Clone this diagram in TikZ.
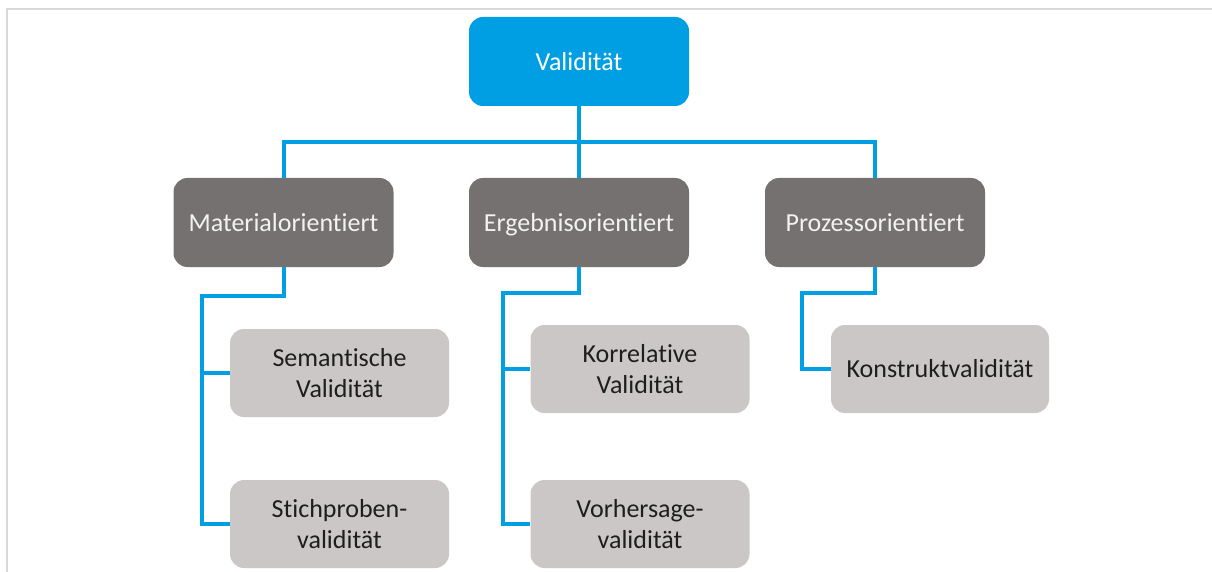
\documentclass[tikz,border=0pt]{standalone}
\usepackage{fontspec}
\setmainfont{Carlito}[Ligatures={NoCommon,NoContextual}]
\definecolor{vblue}{RGB}{0,158,226}
\definecolor{dgray}{RGB}{118,113,113}
\definecolor{lgray}{RGB}{203,199,199}
\definecolor{frame}{RGB}{217,217,217}
\definecolor{ltext}{RGB}{30,30,30}
\begin{document}
\begin{tikzpicture}[x=1pt,y=-1pt,
  base/.style={rounded corners=14pt, inner sep=0pt, align=center,
    font=\fontsize{26}{31}\selectfont},
  topbox/.style={base, fill=vblue, text=white, minimum width=220pt, minimum height=89pt,
    text height=18pt, text depth=0pt},
  midbox/.style={base, fill=dgray, text=white!95!black, minimum width=220pt, minimum height=89pt,
    text height=18pt, text depth=0pt},
  leafbox/.style={base, fill=lgray, text=ltext, minimum width=219pt, minimum height=88pt},
  conn/.style={draw=vblue, line width=4pt}]
\useasboundingbox (0,0) rectangle (1212,572);
\draw[frame, line width=2.5pt] (7,572) -- (7,9) -- (1212,9);

\node[topbox] (V) at (579,61.5) {Validität};
\node[midbox] (M) at (283.5,222.5) {Materialorientiert};
\node[midbox] (E) at (579,222.5) {Ergebnisorientiert};
\node[midbox] (P) at (875,222.5) {Prozessorientiert};
\node[leafbox] (S1) at (339.5,373) {Semantische\\Validität};
\node[leafbox] (S2) at (339.5,524) {Stichproben-\\validität};
\node[leafbox] (K1) at (640,369) {Korrelative\\Validität};
\node[leafbox] (K2) at (640,524) {Vorhersage-\\validität};
\node[leafbox, minimum width=218pt] (P1) at (940,369) {Konstruktvalidität};

\coordinate (bus) at (579,142);
\coordinate (m1) at (202,296);
\coordinate (e1) at (503,293);
\coordinate (p1) at (802,293);

\draw[conn] (V.south) -- (E.north);
\draw[conn] (M.north) |- (bus) -| (P.north);

\draw[conn] (M.south) |- (m1) |- (S2.west);
\draw[conn] (m1 |- S1.west) -- (S1.west);

\draw[conn] (E.south) |- (e1) |- (K2.west);
\draw[conn] (e1 |- K1.west) -- (K1.west);

\draw[conn] (P.south) |- (p1) |- (P1.west);
\end{tikzpicture}
\end{document}
